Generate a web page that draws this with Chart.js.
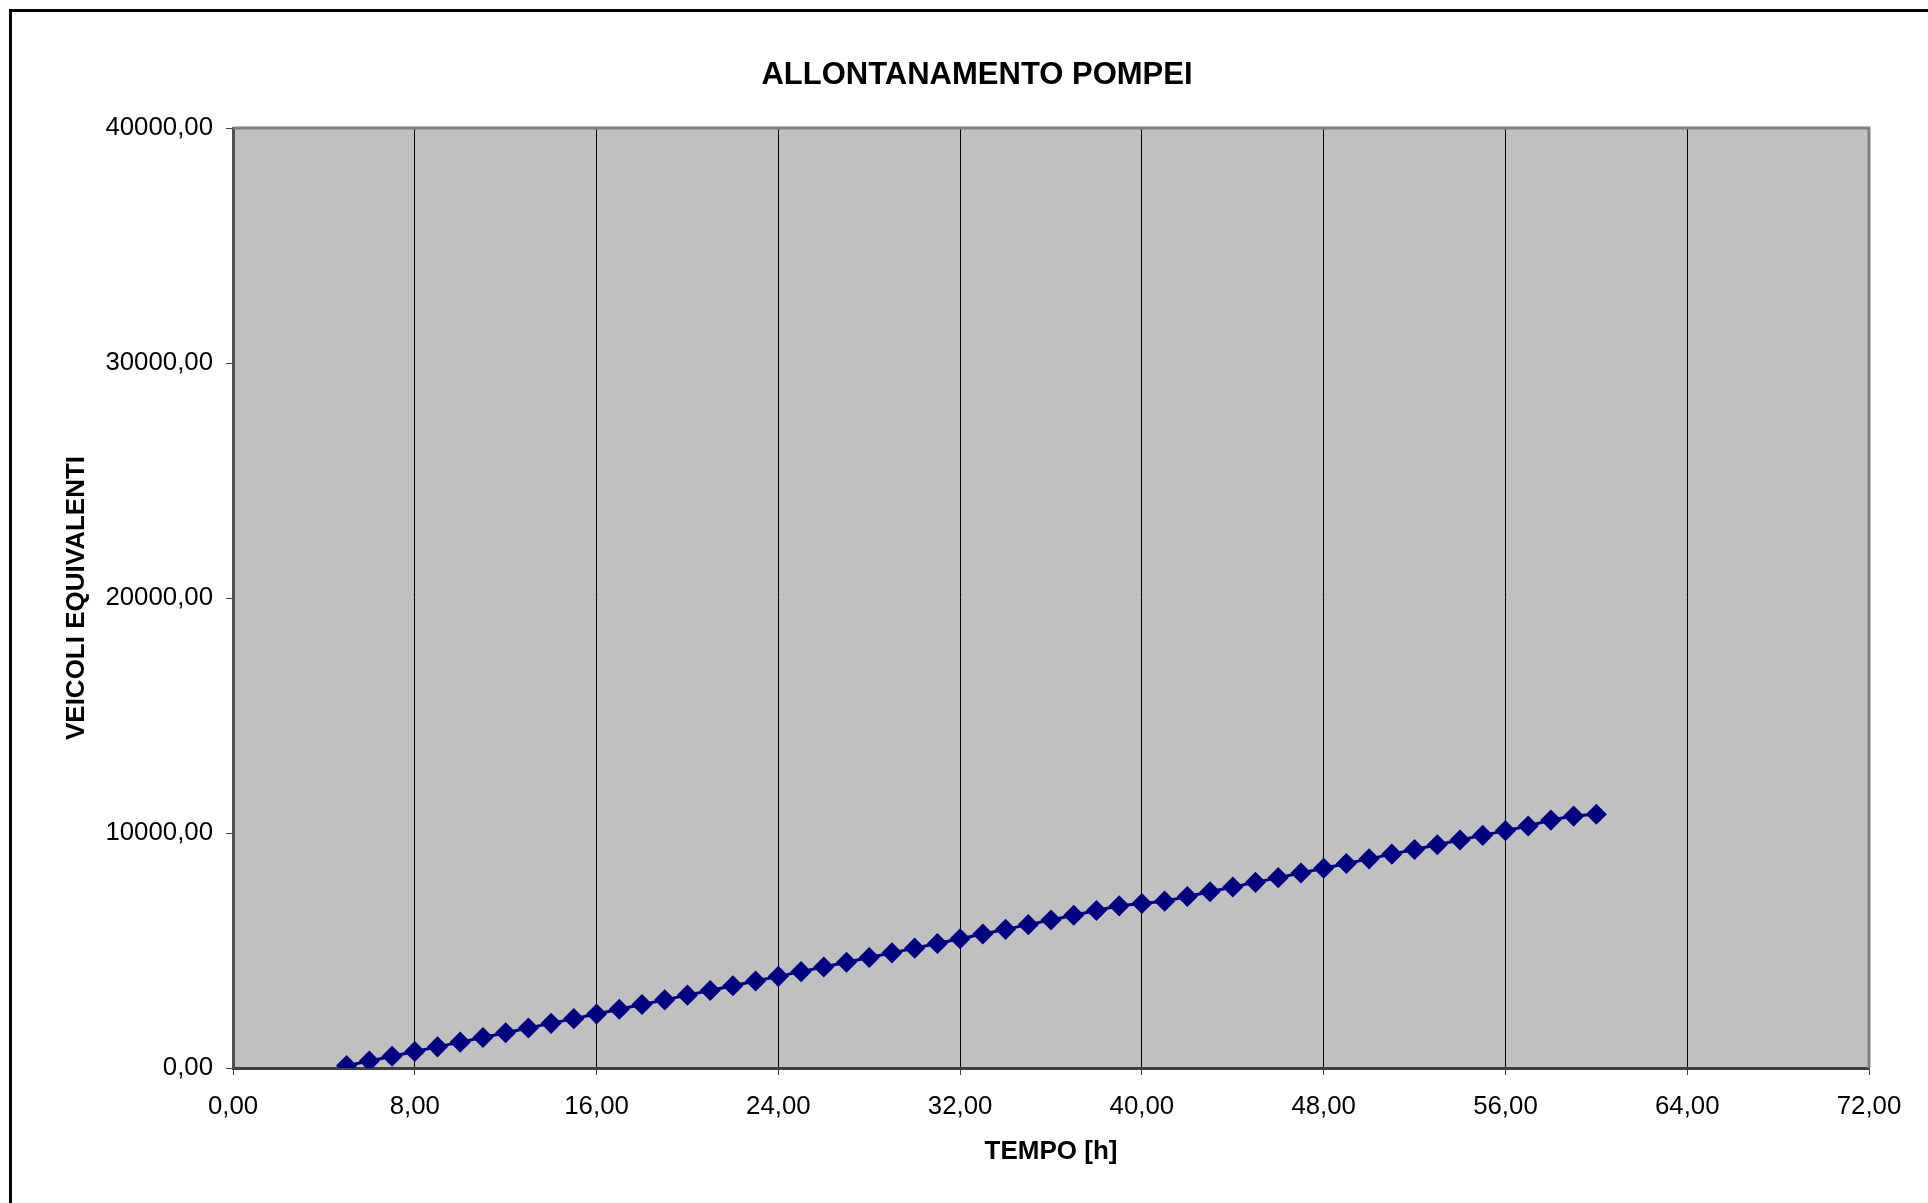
<!DOCTYPE html>
<html>
<head>
  <meta charset="UTF-8" />
  <title>Allontanamento Pompei</title>
  <script src="https://cdn.jsdelivr.net/npm/chart.js"></script>
  <style>
    html, body { margin: 0; padding: 0; background: #fff; }
    #wrap { width: 1928px; height: 1203px; position: relative; }
  </style>
</head>
<body>
  <div id="wrap"><canvas id="chart"></canvas></div>
  <script>
    // data
    const hours = [5, 6, 7, 8, 9, 10, 11, 12, 13, 14, 15, 16, 17, 18, 19, 20, 21, 22, 23, 24,
      25, 26, 27, 28, 29, 30, 31, 32, 33, 34, 35, 36, 37, 38, 39, 40, 41, 42, 43, 44,
      45, 46, 47, 48, 49, 50, 51, 52, 53, 54, 55, 56, 57, 58, 59, 60];
    const vehicles = [100, 300, 500, 700, 900, 1100, 1300, 1500, 1700, 1900, 2100, 2300, 2500, 2700, 2900, 3100, 3300, 3500, 3700, 3900,
      4100, 4300, 4500, 4700, 4900, 5100, 5300, 5500, 5700, 5900, 6100, 6300, 6500, 6700, 6900, 7000, 7100, 7300, 7500, 7700,
      7900, 8100, 8300, 8500, 8700, 8900, 9100, 9300, 9500, 9700, 9900, 10100, 10300, 10550, 10720, 10800];
    const xTicks = [0, 8, 16, 24, 32, 40, 48, 56, 64, 72];
    const yTicks = [0, 10000, 20000, 30000, 40000];

    const FONT = '"Liberation Sans", Arial, sans-serif';
    const fmt = v => Number(v).toFixed(2).replace('.', ',');

    const framePlugin = {
      id: 'frame',
      beforeDraw(chart) {
        const { ctx, chartArea: a } = chart;
        ctx.save();
        ctx.fillStyle = '#fff';
        ctx.fillRect(0, 0, chart.width, chart.height);
        ctx.fillStyle = '#c0c0c0';
        ctx.fillRect(a.left, a.top, a.right - a.left, a.bottom - a.top);
        // outer chart frame (right and bottom edges fall outside the picture)
        ctx.strokeStyle = '#000';
        ctx.lineWidth = 3;
        ctx.beginPath();
        ctx.moveTo(10.5, chart.height + 5);
        ctx.lineTo(10.5, 10.5);
        ctx.lineTo(chart.width + 5, 10.5);
        ctx.stroke();
        // title
        ctx.fillStyle = '#000';
        ctx.font = 'bold 31px ' + FONT;
        ctx.textAlign = 'center';
        ctx.textBaseline = 'middle';
        ctx.fillText('ALLONTANAMENTO POMPEI', 977, 75);
        ctx.restore();
      },
      beforeDatasetsDraw(chart) {
        const { ctx, chartArea: a } = chart;
        ctx.save();
        ctx.strokeStyle = '#808080';
        ctx.lineWidth = 3;
        ctx.beginPath();
        ctx.moveTo(a.left, a.top);
        ctx.lineTo(a.right, a.top);
        ctx.lineTo(a.right, a.bottom);
        ctx.stroke();
        ctx.restore();
      }
    };

    new Chart(document.getElementById('chart'), {
      type: 'line',
      data: {
        datasets: [{
          label: 'Veicoli equivalenti',
          data: hours.map((h, i) => ({ x: h, y: vehicles[i] })),
          borderColor: '#000080',
          backgroundColor: '#000080',
          borderWidth: 3,
          pointStyle: 'rectRot',
          pointRadius: 9.5,
          pointBorderWidth: 1.5,
          pointBackgroundColor: '#000080',
          pointBorderColor: '#000080',
          tension: 0
        }]
      },
      options: {
        responsive: true,
        maintainAspectRatio: false,
        animation: false,
        layout: { padding: { left: 0, top: 128, right: 59, bottom: 0 } },
        plugins: {
          legend: { display: false },
          tooltip: { enabled: false }
        },
        scales: {
          x: {
            type: 'linear',
            min: 0,
            max: 72,
            afterBuildTicks: s => { s.ticks = xTicks.map(v => ({ value: v })); },
            afterFit: s => { s.height = 135; },
            ticks: {
              callback: fmt,
              color: '#000',
              padding: 16.5,
              maxRotation: 0,
              font: { family: FONT, size: 25.8 }
            },
            grid: {
              color: '#000',
              lineWidth: 1,
              tickColor: '#404040',
              tickLength: 7
            },
            border: { color: '#404040', width: 3 },
            title: {
              display: true,
              text: 'TEMPO [h]',
              color: '#000',
              padding: { top: 0, bottom: 36 },
              font: { family: FONT, size: 26, weight: 'bold' }
            }
          },
          y: {
            min: 0,
            max: 40000,
            afterBuildTicks: s => { s.ticks = yTicks.map(v => ({ value: v })); },
            afterFit: s => { s.width = 233; },
            ticks: {
              callback: fmt,
              color: '#000',
              padding: 13,
              font: { family: FONT, size: 25.8 }
            },
            grid: {
              drawOnChartArea: false,
              tickColor: '#404040',
              tickLength: 7
            },
            border: { color: '#505050', width: 3 },
            title: {
              display: true,
              text: 'VEICOLI EQUIVALENTI',
              color: '#000',
              padding: { top: 61, bottom: 0 },
              font: { family: FONT, size: 26, weight: 'bold' }
            }
          }
        }
      },
      plugins: [framePlugin]
    });
  </script>
</body>
</html>
